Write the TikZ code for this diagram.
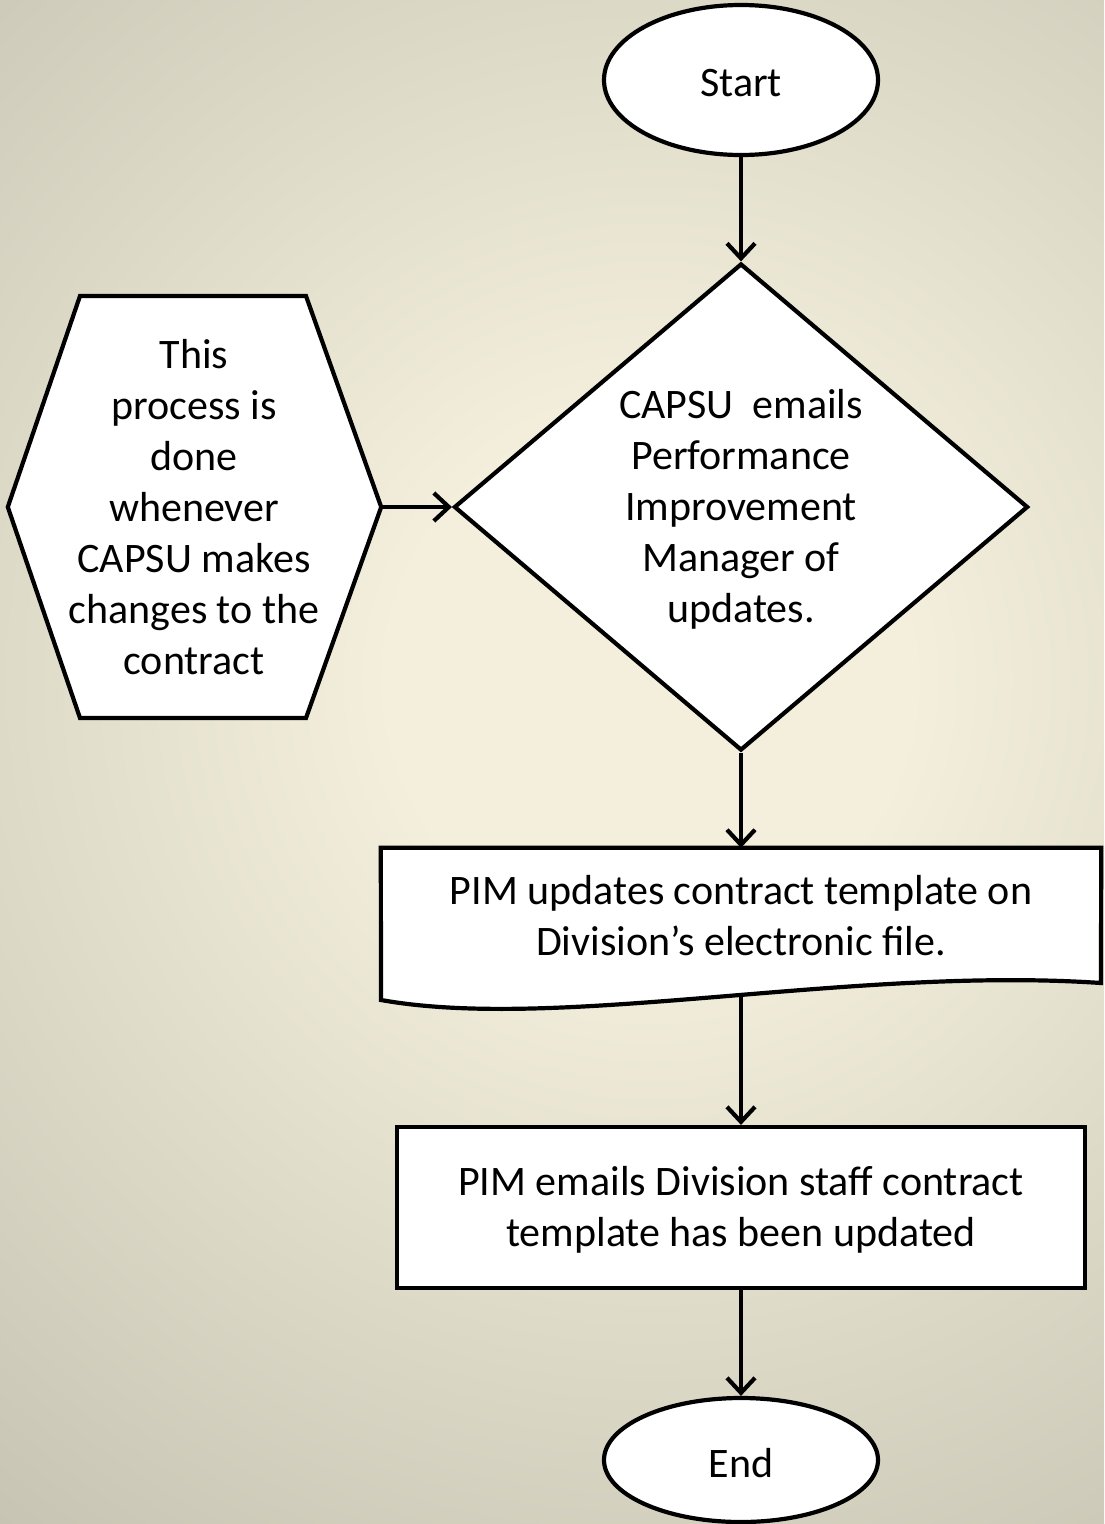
\documentclass[tikz,border=0pt]{standalone}
\usepackage{fontspec}
\setmainfont{Carlito}
\usetikzlibrary{shapes.geometric,arrows.meta,calc}
\definecolor{bgin}{HTML}{F3EFDC}
\definecolor{bgout}{HTML}{9C998A}
\pgfdeclareradialshading{bgshade}{\pgfpoint{0bp}{0bp}}{color(0bp)=(bgin); color(5bp)=(bgin); color(36bp)=(bgout); color(50bp)=(bgout)}
\begin{document}
\begin{tikzpicture}[x=1pt,y=-1pt,
  lbl/.style={font=\fontsize{42}{51}\selectfont, align=center, text=black, inner sep=0pt},
  shp/.style={draw=black, line width=4.2pt, fill=white},
  arr/.style={draw=black, line width=4.2pt, -{Straight Barb[length=15pt,width=28pt]}}
]
\useasboundingbox (0,0) rectangle (1104,1524);
\begin{scope}
\clip (0,0) rectangle (1104,1524);
\fill[bgout] (0,0) rectangle (1104,1524);
\shade[shading=bgshade] (650,680) circle (1300);
\end{scope}

% start / end
\node[shp, ellipse, minimum width=274pt, minimum height=150pt, inner sep=0pt] (start) at (741,80) {};
\node[lbl] at (741,83) {Start};

% diamond
\node[shp, diamond, minimum width=574pt, minimum height=487pt, aspect=1.18, inner sep=0pt] (dec) at (741,507) {};
\node[lbl] at (741,509) {CAPSU\ \ emails\\Performance\\Improvement\\Manager of\\updates.};

% hexagon
\node[minimum width=373pt, minimum height=422pt, inner sep=0pt] (hex) at (194.5,507) {};
\draw[shp, line join=miter] (80,296) -- (306,296) -- (hex.east) -- (306,718) -- (80,718) -- (hex.west) -- cycle;
\node[lbl] at (194,507) {This\\process is\\done\\whenever\\CAPSU makes\\changes to the\\contract};

% document
\node[minimum width=720pt, minimum height=136pt, inner sep=0pt] (doc) at (741,916) {};
\draw[shp, line join=miter] (381,1000) -- (doc.north west) -- (doc.north east) -- (1101,983)
  .. controls (850,966) and (560,1032) .. (381,1000) -- cycle;
\node[lbl] at (741,916) {PIM updates contract template on\\Division’s electronic file.};

% rectangle
\node[shp, minimum width=688pt, minimum height=161pt, inner sep=0pt] (rect) at (741,1207.5) {};
\node[lbl] at (741,1210) {PIM emails Division staff contract\\template has been updated};

% end
\node[shp, ellipse, minimum width=274pt, minimum height=124pt, inner sep=0pt] (endn) at (741,1460) {};
\node[lbl] at (741,1463) {End};

% connectors
\draw[arr] (start.south) -- (dec.north);
\draw[arr] (hex.east) -- (dec.west);
\draw[arr] (dec.south) -- (doc.north);
\draw[arr] ([yshift=-12pt]doc.south) -- (rect.north);
\draw[arr] (rect.south) -- (endn.north);
\end{tikzpicture}
\end{document}
